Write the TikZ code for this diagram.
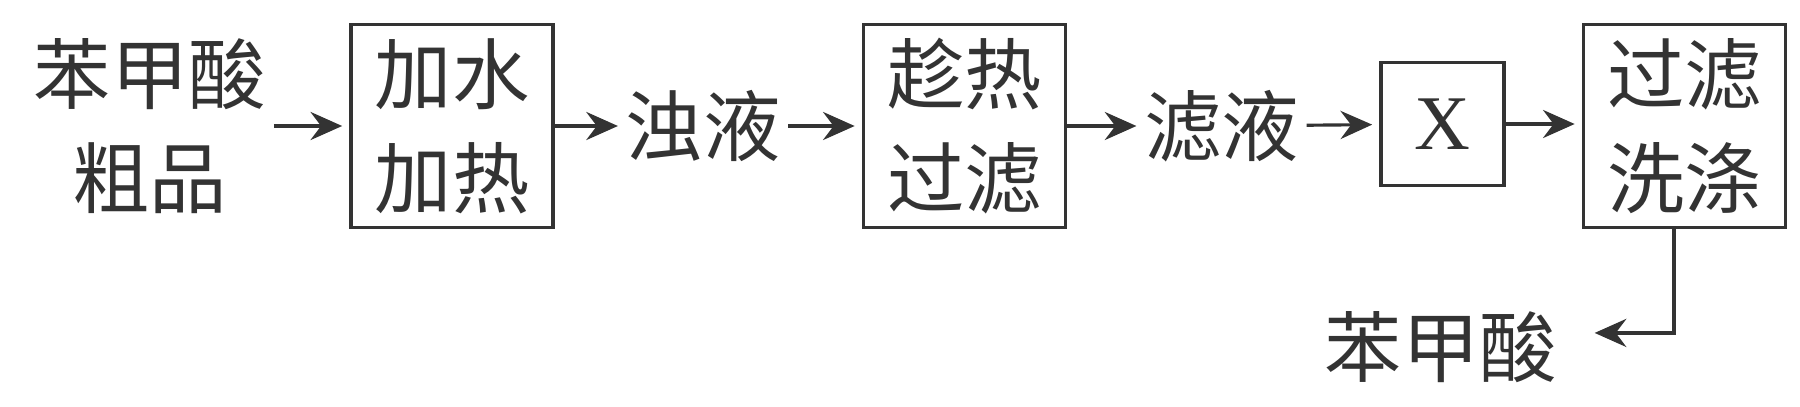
\documentclass[tikz,border=0pt]{standalone}
\usepackage{fontspec}
\setmainfont{Liberation Serif}
\newfontfamily\cjk{Noto Sans CJK SC}
\usetikzlibrary{arrows.meta}

\begin{document}
\begin{tikzpicture}[x=0.01cm,y=0.01cm,
  every node/.style={font=\cjk\fontsize{22pt}{29.6pt}\selectfont, text=black!80, inner sep=0pt, align=center},
  stage/.style={draw=black!80, line width=1pt, minimum width=2.02cm, minimum height=2.03cm},
  flow/.style={draw=black!80, line width=0.9pt, shorten <=2pt, shorten >=2pt, -{Stealth[length=9pt,width=8pt,inset=3pt]}}]
  \useasboundingbox (0,0) rectangle (1800,-406);
  \node (crude) at (150,-126) {苯甲酸\\粗品};
  \node[stage] (heat) at (452,-126) {加水\\加热};
  \node (turbid) at (703,-126) {浊液};
  \node[stage] (hotfilter) at (964.5,-126) {趁热\\过滤};
  \node (filtrate) at (1221.5,-126) {滤液};
  \node[stage, minimum width=1.23cm, minimum height=1.23cm, font=\rmfamily\fontsize{22pt}{26pt}\selectfont] (stepx) at (1442.5,-124) {X};
  \node[stage] (wash) at (1684.5,-126) {过滤\\洗涤};
  \node (product) at (1441,-347) {苯甲酸};
  % main line
  \draw[flow] (crude) -- (heat);
  \draw[flow, shorten <=0pt] (heat) -- (turbid);
  \draw[flow] (turbid) -- (hotfilter);
  \draw[flow, shorten <=0pt] (hotfilter) -- (filtrate);
  \draw[flow] (filtrate) -- (stepx);
  \draw[flow, shorten <=0pt] (stepx.east) -- (wash.west |- stepx.east);
  \draw[flow, shorten <=0pt, shorten >=0pt] ([xshift=-3pt]wash.south) |- ([xshift=10.5pt, yshift=4pt]product.east);
\end{tikzpicture}
\end{document}
